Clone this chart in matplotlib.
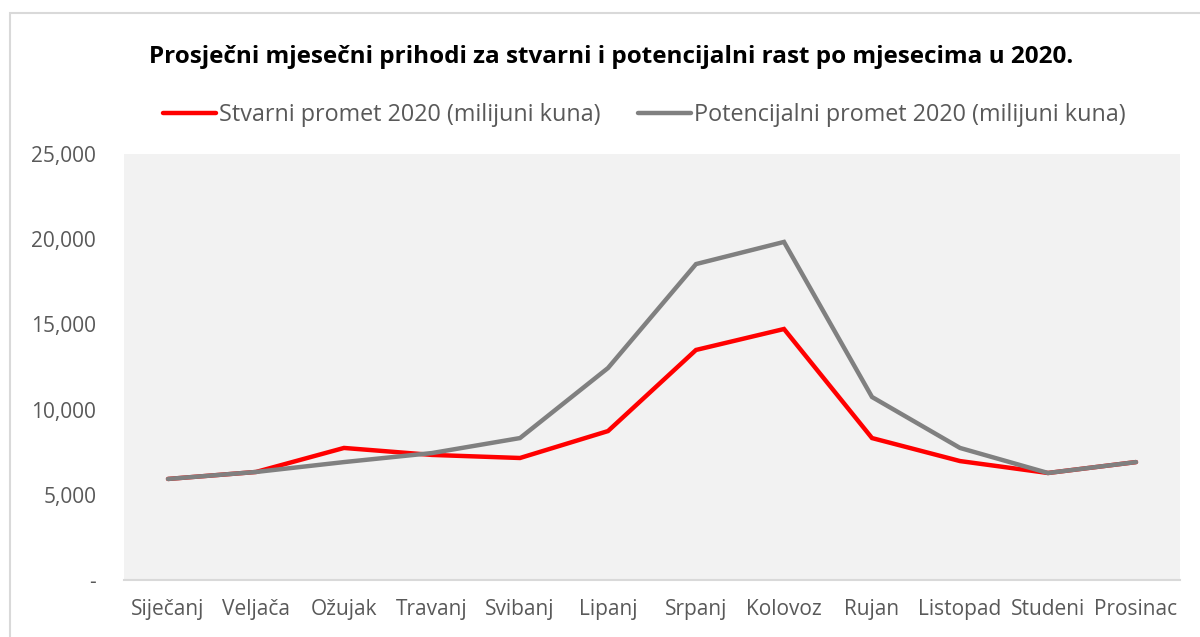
import matplotlib.pyplot as plt
from matplotlib.patches import Rectangle
from matplotlib.ticker import FuncFormatter

mjeseci = ['Siječanj', 'Veljača', 'Ožujak', 'Travanj', 'Svibanj', 'Lipanj',
           'Srpanj', 'Kolovoz', 'Rujan', 'Listopad', 'Studeni', 'Prosinac']
stvarni = [5930, 6340, 7750, 7340, 7160, 8740, 13500, 14730, 8330, 6980, 6280, 6920]
potencijalni = [5930, 6340, 6920, 7450, 8330, 12440, 18540, 19840, 10740, 7750, 6280, 6920]
y_ticks = [0, 5000, 10000, 15000, 20000, 25000]

plt.rcParams['font.family'] = ['Open Sans', 'DejaVu Sans']
SIVA_TEKST = '#595959'

fig = plt.figure(figsize=(12, 6.37), dpi=100)
W, H = 1200, 637

# okvir grafikona
fig.patches.append(Rectangle((10 / W, -0.1), 1.2, 1 - 13 / H + 0.1, transform=fig.transFigure,
                             fill=False, edgecolor='#D9D9D9', linewidth=1.5))

ax = fig.add_axes([124 / W, (H - 580) / H, 1056 / W, 426 / H])
ax.set_facecolor('#F2F2F2')

x = range(len(mjeseci))
ax.plot(x, stvarni, color='#FF0000', linewidth=3.2, solid_capstyle='round',
        solid_joinstyle='miter', label='Stvarni promet 2020 (milijuni kuna)')
ax.plot(x, potencijalni, color='#808080', linewidth=3.2, solid_capstyle='round',
        solid_joinstyle='miter', label='Potencijalni promet 2020 (milijuni kuna)')

ax.set_xlim(-0.5, len(mjeseci) - 0.5)
ax.set_ylim(0, 25000)
ax.set_yticks(y_ticks)
ax.yaxis.set_major_formatter(FuncFormatter(lambda v, p: '-' if v == 0 else f'{int(v):,}'))
ax.set_xticks(list(x))
ax.set_xticklabels(mjeseci)
ax.tick_params(axis='both', length=0, labelsize=15, labelcolor=SIVA_TEKST)
ax.tick_params(axis='y', pad=20)
ax.tick_params(axis='x', pad=14)

for s in ['top', 'right', 'left']:
    ax.spines[s].set_visible(False)
ax.spines['bottom'].set_color('#D9D9D9')
ax.spines['bottom'].set_linewidth(1.5)

fig.text(611 / W, 1 - 57 / H, 'Prosječni mjesečni prihodi za stvarni i potencijalni rast po mjesecima u 2020.',
         ha='center', va='center', fontsize=17.5, fontweight='bold', color='black')

leg = fig.legend(loc='center', bbox_to_anchor=(644 / W, 1 - 115 / H), ncol=2, frameon=False,
                 fontsize=16.8, handlelength=2.3, handletextpad=0.1, columnspacing=1.6)
for t in leg.get_texts():
    t.set_color(SIVA_TEKST)

fig.savefig('out.png', dpi=100)
